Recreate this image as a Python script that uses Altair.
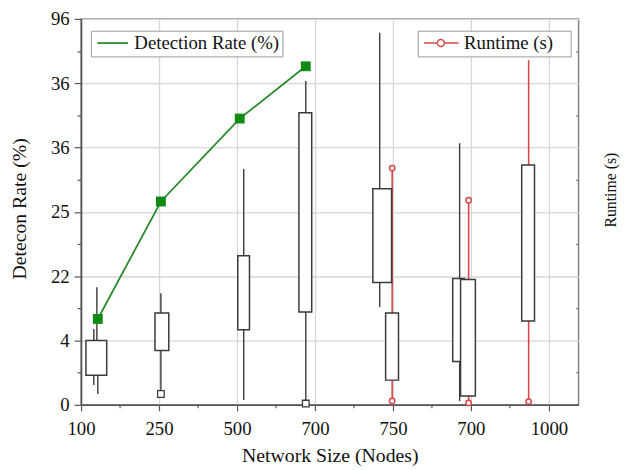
import altair as alt
import pandas as pd

# ---- data (axis units: tick index positions) ----
x_labels = ["100", "250", "500", "700", "750", "700", "1000"]
y_labels = ["0", "4", "22", "25", "36", "36", "96"]

det_x = [0.215, 1.024, 2.035, 2.882]
det_y = [1.335, 3.161, 4.450, 5.263]

box_x0 = [0.063, 0.948, 2.010, 2.794, 3.742, 3.906, 4.766, 4.867, 5.651]
box_x1 = [0.329, 1.125, 2.160, 2.958, 3.982, 4.071, 4.918, 5.057, 5.815]
box_q1 = [0.460, 0.844, 1.166, 1.442, 1.903, 0.384, 0.675, 0.138, 1.304]
box_q3 = [1.000, 1.427, 2.317, 4.542, 3.360, 1.427, 1.964, 1.949, 3.729]

wh_x = [0.203, 0.164, 0.164, 0.215, 1.024, 1.024, 2.086, 2.086, 2.882, 2.882, 3.830, 3.830, 4.855, 4.855]
wh_lo = [1.000, 1.000, 0.307, 0.169, 1.427, 0.230, 2.317, 0.077, 4.542, 0.030, 3.360, 1.520, 1.964, 0.060]
wh_hi = [1.826, 1.180, 0.460, 0.460, 1.734, 0.844, 3.667, 1.166, 5.033, 1.442, 5.785, 1.903, 4.066, 0.675]

out_x = [1.024, 2.882]
out_y = [0.169, 0.020]

rt_x = [3.990, 4.970, 5.740]
rt_lo = [0.060, 0.030, 0.050]
rt_hi = [3.680, 3.180, 5.355]

rt_pt_x = [3.990, 3.990, 4.970, 4.970, 5.740]
rt_pt_y = [0.060, 3.680, 0.030, 3.180, 0.050]

GREEN = "#2a8a2a"
GREEN_M = "#0f8a14"
RED = "#d8464a"
BOX = "#3a3a3a"
FONT = "Liberation Serif"

df_det = pd.DataFrame({"x": det_x, "y": det_y, "series": ["Detection Rate (%)"] * len(det_x)})
df_box = pd.DataFrame({"x0": box_x0, "x1": box_x1, "q1": box_q1, "q3": box_q3})
df_wh = pd.DataFrame({"x": wh_x, "lo": wh_lo, "hi": wh_hi})
df_out = pd.DataFrame({"x": out_x, "y": out_y})
df_rt = pd.DataFrame({"x": rt_x, "lo": rt_lo, "hi": rt_hi, "series": ["Runtime (s)"] * len(rt_x)})
df_rtp = pd.DataFrame({"x": rt_pt_x, "y": rt_pt_y})

def js_arr(lst):
    return "[" + ",".join("'" + s + "'" for s in lst) + "]"

minor_test = "datum.value % 1 !== 0"
xvals = [i * 0.5 for i in range(13)]
yvals = [i * 0.5 for i in range(13)]

xscale = alt.Scale(domain=[0, 6.38], nice=False, zero=False)
yscale = alt.Scale(domain=[0, 6], nice=False, zero=False)

xaxis = alt.Axis(
    values=xvals,
    labelExpr="datum.value % 1 === 0 ? " + js_arr(x_labels) + "[datum.value] : ''",
    title="Network Size (Nodes)", titleFontSize=20,
    titleY=57, titleBaseline="alphabetic",
    tickSize={"condition": {"test": minor_test, "value": 3}, "value": 6},
    gridOpacity={"condition": {"test": minor_test, "value": 0}, "value": 1},
    grid=True, labelFlush=False, labelOverlap=False,
    labelPadding=9,
)
yaxis_left = alt.Axis(
    values=yvals,
    labelExpr="datum.value % 1 === 0 ? " + js_arr(y_labels) + "[datum.value] : ''",
    title="Detecon Rate (%)", titleFontSize=20, titleY=192,
    tickSize={"condition": {"test": minor_test, "value": 4}, "value": 7},
    gridOpacity={"condition": {"test": minor_test, "value": 0}, "value": 1},
    grid=True, labelFlush=False, labelOverlap=False,
    labelPadding=5, titlePadding=21,
)
yaxis_right = alt.Axis(
    orient="right",
    values=[i + 0.5 for i in range(6)],
    labels=False, domain=False, grid=False,
    tickSize=3, offset=-3, tickColor="#777",
    title="Runtime (s)", titleAngle=270, titleFontSize=16,
    titleX=35, titleY=173, titleAlign="center", titleBaseline="middle",
)

def X(f):
    return alt.X(f, type="quantitative", scale=xscale, axis=xaxis)

def Y(f, axis=None):
    return alt.Y(f, type="quantitative", scale=yscale, axis=axis)

RT_SYMBOL = ("M-0.75,0H0.9375M1.8125,0H3.625"
             "M0.9375,0A0.4375,0.4375,0,1,1,1.8125,0A0.4375,0.4375,0,1,1,0.9375,0Z")

red_rules = alt.Chart(df_rt).mark_rule(strokeWidth=1.6).encode(
    x=X("x"), y=Y("lo", yaxis_right), y2="hi",
    stroke=alt.Stroke("series:N", scale=alt.Scale(domain=["Runtime (s)"], range=[RED]),
                      legend=alt.Legend(
                          title=None, orient="none", legendX=341, legendY=12,
                          padding=3, strokeColor="#999999", fillColor="white",
                          symbolType=RT_SYMBOL,
                          symbolSize=256, symbolStrokeWidth=1.5, symbolFillColor="white",
                          labelFont=FONT, labelFontSize=19, labelColor="#111111", labelOffset=25,
                          labelExpr="datum.label + '\u2800'",
                      )),
)

black_wh = alt.Chart(df_wh).mark_rule(color=BOX, strokeWidth=1.4).encode(
    x=X("x"), y=Y("lo"), y2="hi"
)

boxes = alt.Chart(df_box).mark_rect(fill="white", stroke=BOX, strokeWidth=1.5).encode(
    x=X("x0"), x2="x1", y=Y("q1", yaxis_left), y2="q3"
)

outliers = alt.Chart(df_out).mark_point(shape="square", filled=False, fill="white",
                                        stroke=BOX, strokeWidth=1.3, size=45, opacity=1).encode(
    x=X("x"), y=Y("y")
)

rt_pts = alt.Chart(df_rtp).mark_point(shape="circle", filled=False, fill="white",
                                      stroke=RED, strokeWidth=1.5, size=30, opacity=1).encode(
    x=X("x"), y=Y("y")
)

det_line = alt.Chart(df_det).mark_line(strokeWidth=1.8).encode(
    x=X("x"), y=Y("y"),
    color=alt.Color("series:N", scale=alt.Scale(domain=["Detection Rate (%)"], range=[GREEN]),
                    legend=alt.Legend(
                        title=None, orient="none", legendX=10, legendY=12,
                        padding=3, strokeColor="#999999", fillColor="white",
                        symbolType="M-0.75,0H3.125", symbolSize=256, symbolStrokeWidth=1.8,
                        labelFont=FONT, labelFontSize=19, labelColor="#111111", labelOffset=22,
                    )),
)

det_pts = alt.Chart(df_det).mark_point(shape="square", filled=True, color=GREEN_M,
                                       size=100, opacity=1).encode(
    x=X("x"), y=Y("y")
)

chart = alt.layer(
    red_rules, boxes, black_wh, outliers, rt_pts, det_line, det_pts
).resolve_axis(y="independent").properties(
    width=504, height=391,
    autosize=alt.AutoSizeParams(type="none"),
    padding={"left": 74, "top": 8, "right": 43, "bottom": 63},
).configure_view(
    stroke="#808080", strokeWidth=1.5
).configure_axis(
    labelFont=FONT, titleFont=FONT, labelFontSize=19, titleFontSize=19,
    labelColor="#111111", titleColor="#111111", titleFontWeight="normal",
    domainColor="#555555", domainWidth=1.5, tickColor="#555555", tickWidth=1.2,
    gridColor="#d6d6d6", gridWidth=1.3,
)

chart.save("out.html", embed_options={"renderer": "svg", "actions": False})
